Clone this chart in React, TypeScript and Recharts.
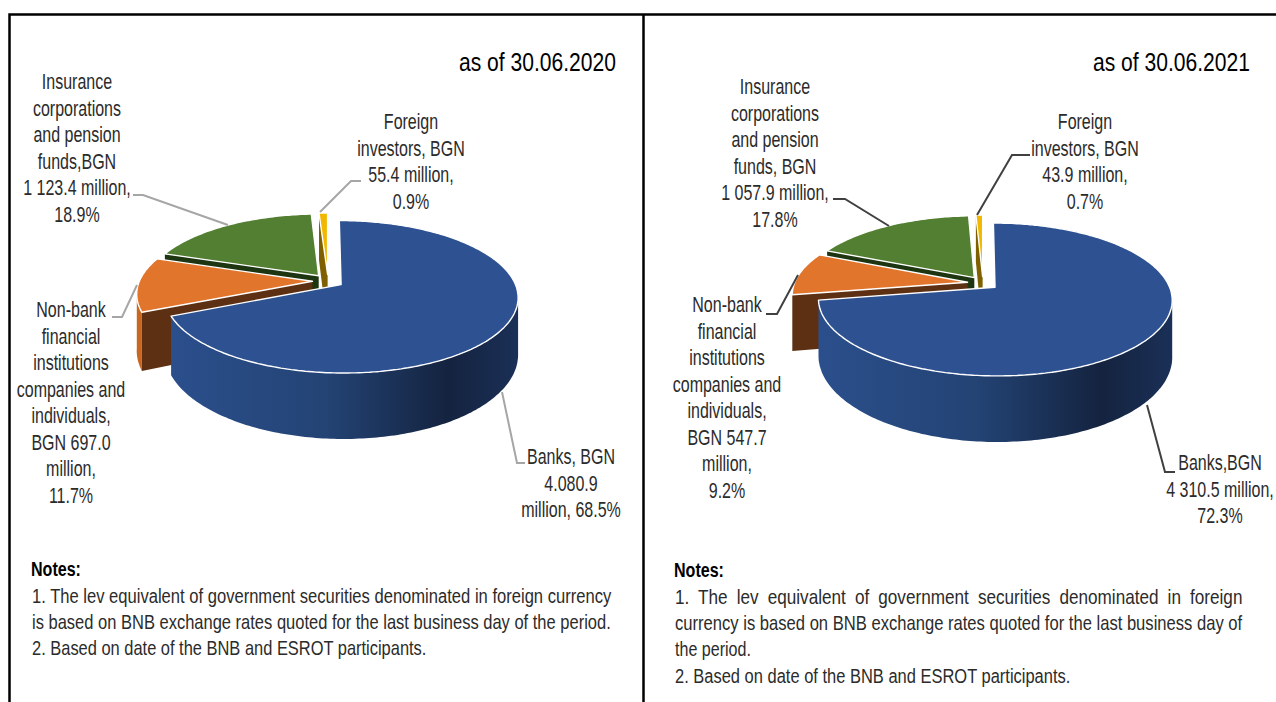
import { PieChart, Pie } from "recharts";

// painted back to front: counter-clockwise from 12 o'clock
const categories = ["Foreign investors", "Insurance and pension funds", "Non-bank and individuals", "Banks"];
const values2020 = [55.4, 1123.4, 697.0, 4080.9];
const values2021 = [43.9, 1057.9, 547.7, 4310.5];

const labels2020 = [
  ["Foreign", "investors, BGN", "55.4 million,", "0.9%"],
  ["Insurance", "corporations", "and pension", "funds,BGN", "1 123.4 million,", "18.9%"],
  ["Non-bank", "financial", "institutions", "companies and", "individuals,", "BGN 697.0", "million,", "11.7%"],
  ["Banks, BGN", "4.080.9", "million, 68.5%"],
];
const labels2021 = [
  ["Foreign", "investors, BGN", "43.9 million,", "0.7%"],
  ["Insurance", "corporations", "and pension", "funds, BGN", "1 057.9 million,", "17.8%"],
  ["Non-bank", "financial", "institutions", "companies and", "individuals,", "BGN 547.7", "million,", "9.2%"],
  ["Banks,BGN", "4 310.5 million,", "72.3%"],
];

const FILLS = ["#F2B800", "#527F31", "#E2752C", "#2E5291"];
const SIDES = ["#7F6000", "#1E3512", "#5E3013", "#1A2F55"];
const RIMS = ["#B58A00", "#3C5E24", "#C9661F", "url(#blueWall)"];

const FONT = "'Liberation Sans', Arial, sans-serif";
const RY = 74 / 175;
const K = 0.158;
const DEPTH = 55;
const EXPLODE = 0.09;
const LINE_H = 26.5;
const rad = (d: number) => (d * Math.PI) / 180;

function Slice3D(props: any) {
  const { cx, cy, outerRadius: rx, startAngle, endAngle } = props;
  const a = 90 - startAngle + 360;
  const b = 90 - endAngle + 360;
  const lo = Math.min(a, b);
  const hi = Math.max(a, b);
  const mid = (lo + hi) / 2;
  const idx = categories.indexOf(props.name ?? props.payload?.name);
  const ax = EXPLODE * Math.sin(rad(mid));
  const ay = -EXPLODE * Math.cos(rad(mid));
  const pt = (X: number, Y: number, down = false) => {
    const w = 1 - K * Y;
    return [cx + (rx * X) / w, cy + (rx * RY * Y) / w + (down ? DEPTH / w : 0)];
  };
  const rim = (t: number, down = false) => pt(ax + Math.sin(rad(t)), ay - Math.cos(rad(t)), down);
  const toPath = (pts: number[][]) =>
    "M" + pts.map((p) => p[0].toFixed(1) + "," + p[1].toFixed(1)).join("L") + "Z";

  const arc: number[] = [];
  const steps = Math.max(3, Math.ceil(hi - lo));
  for (let i = 0; i <= steps; i++) arc.push(lo + ((hi - lo) * i) / steps);
  const front = arc.filter((t) => -Math.cos(rad(t)) > 0.14);

  const apex = pt(ax, ay);
  const apexDown = pt(ax, ay, true);
  const showLo = -Math.sin(rad(lo)) > 0.01;
  const showHi = Math.sin(rad(hi)) > 0.01;
  return (
    <g>
      {showLo && <path d={toPath([apex, rim(lo), rim(lo, true), apexDown])} fill={SIDES[idx]} />}
      {showHi && <path d={toPath([apex, rim(hi), rim(hi, true), apexDown])} fill={SIDES[idx]} />}
      {front.length > 1 && (
        <path
          d={toPath([...front.map((t) => rim(t)), ...[...front].reverse().map((t) => rim(t, true))])}
          fill={RIMS[idx]}
        />
      )}
      <path d={toPath([apex, ...arc.map((t) => rim(t))])} fill={FILLS[idx]} stroke="#fff" strokeWidth={1.4} strokeLinejoin="round" />
    </g>
  );
}

const measureCtx = document.createElement("canvas").getContext("2d");

// the reference's type is squeezed, so each line is scaled on x to its measured width
function Txt({ x, y, children, size = 21.5, sx = 0.745, anchor = "middle", weight, fill = "#2b2b2b", len, ws = 0 }: any) {
  let scale = sx;
  if (len && measureCtx) {
    measureCtx.font = `${weight ?? "normal"} ${size}px ${FONT}`;
    const spaces = String(children).split(" ").length - 1;
    scale = len / (measureCtx.measureText(String(children)).width + ws * spaces);
  }
  return (
    <text
      transform={`translate(${x},${y}) scale(${scale.toFixed(4)},1)`}
      textAnchor={anchor}
      fontFamily={FONT}
      fontSize={size}
      fontWeight={weight}
      fill={fill}
      wordSpacing={ws}
    >
      {children}
    </text>
  );
}

type Layout = { cx: number; top: number; leader: number[][] };

function makeLabel(lines: string[][], layouts: Layout[], color: string) {
  return (props: any) => {
    const i = categories.indexOf(props.name ?? props.payload?.name);
    if (i < 0) return null;
    const l = layouts[i];
    return (
      <g key={i}>
        <polyline points={l.leader.map((p) => p.join(",")).join(" ")} fill="none" stroke={color} strokeWidth={2} />
        {lines[i].map((t, n) => (
          <Txt key={t} x={l.cx} y={l.top + n * LINE_H + 7}>
            {t}
          </Txt>
        ))}
      </g>
    );
  };
}

const layout2020: Layout[] = [
  { cx: 411, top: 122, leader: [[361, 181], [351, 181], [320, 212]] },
  { cx: 77, top: 82, leader: [[133, 195], [143, 195], [228, 225]] },
  { cx: 71, top: 310, leader: [[112, 317], [122, 317], [137, 285]] },
  { cx: 571, top: 457, leader: [[502, 392], [517, 463], [525, 463]] },
];
const layout2021: Layout[] = [
  { cx: 1085, top: 122, leader: [[1030, 155], [1012, 155], [977, 215]] },
  { cx: 775, top: 87, leader: [[833, 199], [845, 199], [889, 226]] },
  { cx: 727, top: 305, leader: [[766, 314], [777, 314], [798, 275]] },
  { cx: 1220, top: 463, leader: [[1147, 405], [1165, 472], [1175, 472]] },
];

const table = (vals: number[]) => categories.map((name, i) => ({ name, value: vals[i] }));

export default function App() {
  return (
    <div style={{ position: "fixed", left: 0, top: 0, width: 1276, height: 702, background: "#fff", overflow: "hidden" }}>
      <PieChart width={1276} height={702} style={{ position: "absolute", left: 0, top: 0 }}>
        <defs>
          <linearGradient id="blueWall" x1="0" y1="0" x2="1" y2="0">
            <stop offset="0" stopColor="#2B4F8C" />
            <stop offset="0.45" stopColor="#234374" />
            <stop offset="0.8" stopColor="#14233F" />
            <stop offset="1" stopColor="#1B3057" />
          </linearGradient>
        </defs>
        <Pie
          data={table(values2020)}
          dataKey="value"
          nameKey="name"
          cx={323}
          cy={276}
          outerRadius={173}
          startAngle={90}
          endAngle={450}
          isAnimationActive={false}
          rootTabIndex={-1}
          shape={Slice3D}
          labelLine={false}
          label={makeLabel(labels2020, layout2020, "#A6A6A6")}
        />
        <Pie
          data={table(values2021)}
          dataKey="value"
          nameKey="name"
          cx={978}
          cy={278}
          outerRadius={173}
          startAngle={90}
          endAngle={450}
          isAnimationActive={false}
          rootTabIndex={-1}
          shape={Slice3D}
          labelLine={false}
          label={makeLabel(labels2021, layout2021, "#404040")}
        />
      </PieChart>
      <svg width={1276} height={702} style={{ position: "absolute", left: 0, top: 0, pointerEvents: "none" }}>
        <path d="M9.5,702V14.5H1276M643.5,14.5V702" fill="none" stroke="#000" strokeWidth={2.5} />
        <Txt x={459} y={71} size={26} len={157} anchor="start" fill="#000">as of 30.06.2020</Txt>
        <Txt x={1093} y={71} size={26} len={157} anchor="start" fill="#000">as of 30.06.2021</Txt>

        <Txt x={31} y={576} size={20} len={50} anchor="start" weight="bold" fill="#000">Notes:</Txt>
        <Txt x={32} y={603} size={20} len={580} anchor="start">1. The lev equivalent of government securities denominated in foreign currency</Txt>
        <Txt x={32} y={629} size={20} len={579} anchor="start">is based on BNB exchange rates quoted for the last business day of the period.</Txt>
        <Txt x={32} y={655} size={20} len={395} anchor="start">2. Based on date of the BNB and ESROT participants.</Txt>

        <Txt x={674} y={577} size={20} len={50} anchor="start" weight="bold" fill="#000">Notes:</Txt>
        <Txt x={675} y={604} size={20} len={568} anchor="start" ws={5}>1. The lev equivalent of government securities denominated in foreign</Txt>
        <Txt x={675} y={630} size={20} len={568} anchor="start">currency is based on BNB exchange rates quoted for the last business day of</Txt>
        <Txt x={675} y={656} size={20} len={76} anchor="start">the period.</Txt>
        <Txt x={675} y={683} size={20} len={396} anchor="start">2. Based on date of the BNB and ESROT participants.</Txt>
      </svg>
    </div>
  );
}
